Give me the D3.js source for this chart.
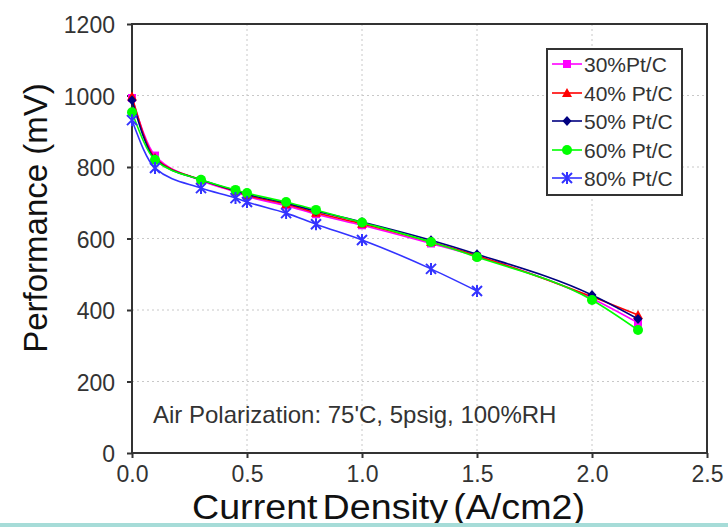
<!DOCTYPE html>
<html><head><meta charset="utf-8">
<script src="https://cdn.jsdelivr.net/npm/d3@7"></script>
<style>body{margin:0;background:#fff;}svg{display:block;font-family:"Liberation Sans",Arial,sans-serif;}</style>
</head><body>
<svg id="c" width="728" height="527"></svg>
<script>
const currentDensity = [0, 0.1, 0.3, 0.45, 0.5, 0.67, 0.8, 1.0, 1.3, 1.5, 2.0, 2.2];
const pt30 = [993, 832, 762, 730, 718, 692, 668, 637, 586, 550, 432, 364];
const pt40 = [997, 826, 764, 732, 721, 696, 672, 641, 590, 552, 437, 386];
const pt50 = [987, 822, 764, 734, 724, 699, 677, 646, 595, 556, 442, 375];
const pt60 = [953, 820, 764, 736, 727, 702, 680, 645, 590, 548, 428, 344];
const pt80 = [931, 797, 741, 713, 702, 671, 640, 596, 515, 453];
const seriesNames = ["30%Pt/C", "40% Pt/C", "50% Pt/C", "60% Pt/C", "80% Pt/C"];
const xTicks = [0, 0.5, 1.0, 1.5, 2.0, 2.5];
const yTicks = [0, 200, 400, 600, 800, 1000, 1200];

const seriesValues = [pt30, pt40, pt50, pt60, pt80];
const colors = ["#ff00ff", "#ff0000", "#000080", "#00ff00", "#3333ff"];
const shapes = ["square", "triangle", "diamond", "circle", "star"];

const svg = d3.select("#c");
const L = 132, R = 707, T = 24, B = 453;
const x = d3.scaleLinear().domain([0, 2.5]).range([L, R]);
const y = d3.scaleLinear().domain([0, 1200]).range([B, T]);

// grid
svg.append("g").selectAll("line").data(xTicks.slice(1, -1)).join("line")
  .attr("x1", d => x(d)).attr("x2", d => x(d)).attr("y1", T).attr("y2", B)
  .attr("stroke", "#c8c8c8").attr("stroke-dasharray", "2,3").attr("stroke-width", 1);
svg.append("g").selectAll("line").data(yTicks.slice(1, -1)).join("line")
  .attr("x1", L).attr("x2", R).attr("y1", d => y(d)).attr("y2", d => y(d))
  .attr("stroke", "#c8c8c8").attr("stroke-dasharray", "2,3").attr("stroke-width", 1);

// frame
svg.append("rect").attr("x", L).attr("y", T).attr("width", R - L).attr("height", B - T)
  .attr("fill", "none").attr("stroke", "#333").attr("stroke-width", 2);

// axes
const xAxis = svg.append("g").attr("transform", `translate(0,${B})`)
  .call(d3.axisBottom(x).tickValues(xTicks).tickFormat(d3.format(".1f")).tickSize(5).tickPadding(8));
const yAxis = svg.append("g").attr("transform", `translate(${L},0)`)
  .call(d3.axisLeft(y).tickValues(yTicks).tickFormat(d3.format("d")).tickSize(5).tickPadding(12));
[xAxis, yAxis].forEach(a => {
  a.select(".domain").remove();
  a.selectAll(".tick line").attr("stroke", "#333").attr("stroke-width", 2);
  a.selectAll("text").attr("font-size", 23).attr("fill", "#333").attr("font-family", "Liberation Sans, Arial, sans-serif");
});
yAxis.selectAll("text").attr("dy", "0.38em");

function marker(g, shape, color, cx, cy) {
  if (shape === "square") {
    g.append("rect").attr("x", cx - 4).attr("y", cy - 4).attr("width", 8).attr("height", 8).attr("fill", color);
  } else if (shape === "triangle") {
    g.append("path").attr("d", `M${cx},${cy - 5}L${cx + 5},${cy + 4}L${cx - 5},${cy + 4}Z`).attr("fill", color);
  } else if (shape === "diamond") {
    g.append("path").attr("d", `M${cx},${cy - 5}L${cx + 4.5},${cy}L${cx},${cy + 5}L${cx - 4.5},${cy}Z`).attr("fill", color);
  } else if (shape === "circle") {
    g.append("circle").attr("cx", cx).attr("cy", cy).attr("r", 5).attr("fill", color);
  } else {
    const s = 5;
    g.append("path").attr("d", `M${cx - s},${cy - s}L${cx + s},${cy + s}M${cx - s},${cy + s}L${cx + s},${cy - s}M${cx},${cy - s - 1}L${cx},${cy + s + 1}`)
      .attr("stroke", color).attr("stroke-width", 2).attr("fill", "none");
  }
}

const line = d3.line().x(d => x(d[0])).y(d => y(d[1])).curve(d3.curveMonotoneX);
seriesValues.forEach((vals, i) => {
  const pts = vals.map((v, j) => [currentDensity[j], v]);
  const g = svg.append("g");
  g.append("path").datum(pts).attr("d", line).attr("fill", "none")
    .attr("stroke", colors[i]).attr("stroke-width", 1.6);
  pts.forEach(p => marker(g, shapes[i], colors[i], x(p[0]), y(p[1])));
});

// legend
const lg = svg.append("g");
lg.append("rect").attr("x", 547).attr("y", 49).attr("width", 135).attr("height", 146)
  .attr("fill", "#fff").attr("stroke", "#333").attr("stroke-width", 2);
const legY = [64, 93, 121, 150, 178];
seriesNames.forEach((n, i) => {
  lg.append("line").attr("x1", 552).attr("x2", 582).attr("y1", legY[i]).attr("y2", legY[i])
    .attr("stroke", colors[i]).attr("stroke-width", 1.6);
  marker(lg, shapes[i], colors[i], 567, legY[i]);
  lg.append("text").attr("x", 584).attr("y", legY[i]).attr("dy", "0.36em")
    .attr("font-size", 21).attr("fill", "#333").text(n);
});

// annotation
svg.append("text").attr("x", 153).attr("y", 423).attr("font-size", 24).attr("fill", "#333")
  .text("Air Polarization: 75'C, 5psig, 100%RH");

// axis titles
svg.append("text").attr("transform", "translate(47,218) rotate(-90)").attr("text-anchor", "middle")
  .attr("font-size", 33).attr("fill", "#111").text("Performance (mV)");
svg.append("text").attr("x", 192).attr("y", 519).attr("text-anchor", "start")
  .attr("font-size", 35).attr("word-spacing", -5).attr("textLength", 393).attr("lengthAdjust", "spacingAndGlyphs")
  .attr("fill", "#111").text("Current Density (A/cm2)");

// bottom teal strip
svg.append("rect").attr("x", 0).attr("y", 523).attr("width", 728).attr("height", 4).attr("fill", "#a6dcd8");
</script>
</body></html>
